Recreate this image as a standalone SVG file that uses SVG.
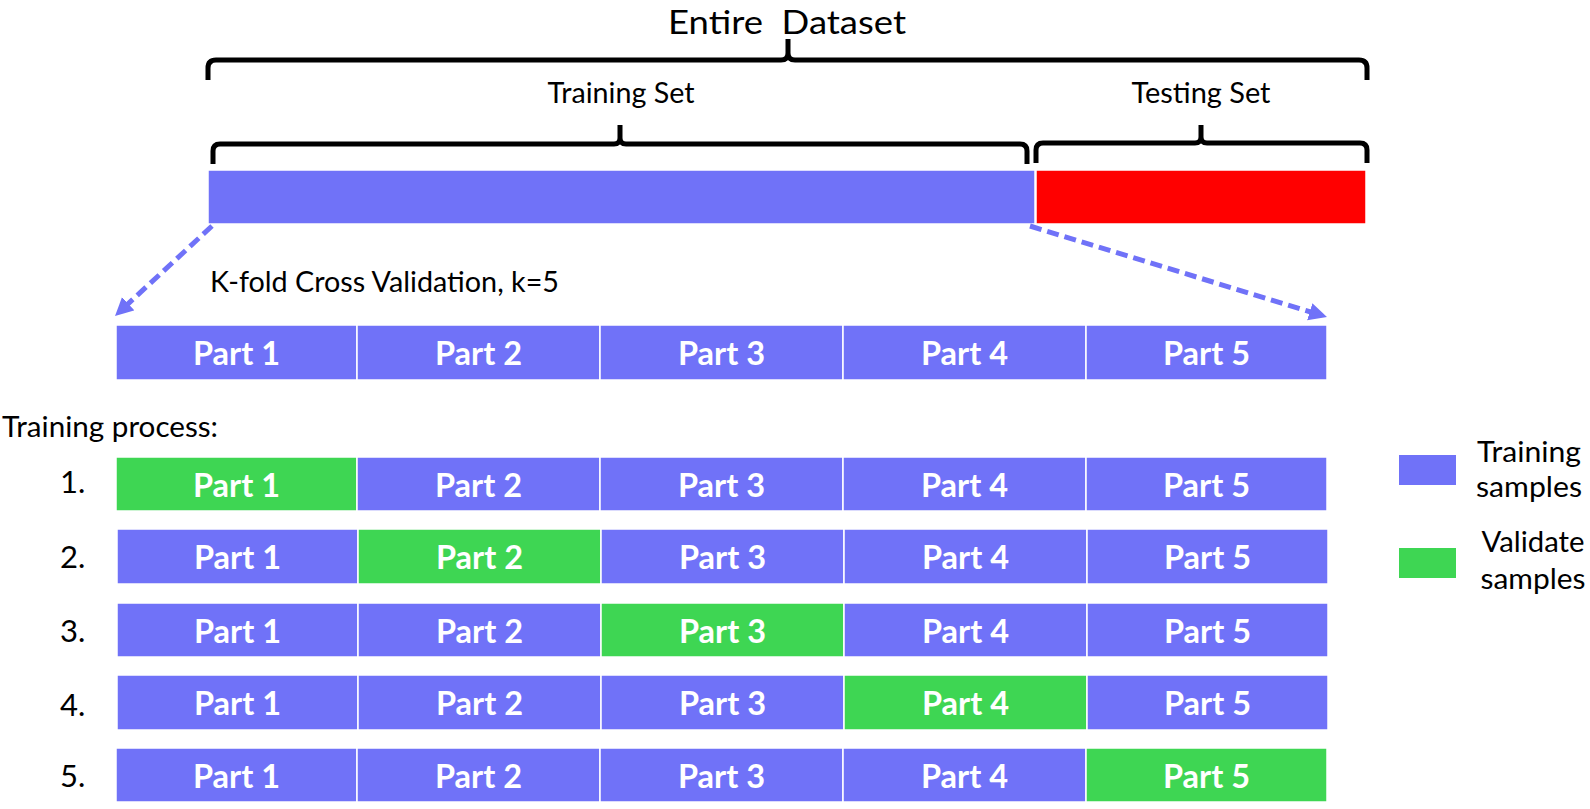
<svg xmlns="http://www.w3.org/2000/svg" width="1590" height="809" viewBox="0 0 1590 809">
<style>
.lbl{font-family:Lato,"Liberation Sans",sans-serif;fill:#000;}
.pt{font-family:Lato,"Liberation Sans",sans-serif;font-weight:bold;font-size:31.5px;fill:#fff;text-anchor:middle;}
.tr{fill:#7072F8;stroke:#fff;stroke-width:1.5;}
.va{fill:#3ED653;stroke:#fff;stroke-width:1.5;}
.te{fill:#FF0000;stroke:#fff;stroke-width:1.5;}
.br{fill:none;stroke:#000;stroke-width:5;stroke-linejoin:round;}
.ar{fill:none;stroke:#7072F8;stroke-width:5;stroke-dasharray:12 6;}
</style>
<defs>
<marker id="ah" markerUnits="userSpaceOnUse" markerWidth="20" markerHeight="20" refX="6" refY="9" orient="auto">
<path d="M0,0 L18,9 L0,18 z" fill="#7072F8"/>
</marker>
</defs>
<rect width="1590" height="809" fill="#fff"/>

<g id="title">
<text class="lbl" x="787" y="33.5" font-size="33.5" text-anchor="middle" xml:space="preserve" textLength="238" lengthAdjust="spacingAndGlyphs">Entire  Dataset</text>
</g>
<g id="brace-entire">
<path class="br" stroke-width="5.5" d="M208,80 V68 Q208,60 216,60 H781 Q788,60 788,53 V39 M788,53 Q788,60 795,60 H1359 Q1367,60 1367,68 V80"/>
</g>
<g id="label-training-set">
<text class="lbl" x="621" y="103" font-size="28" text-anchor="middle" textLength="147" lengthAdjust="spacingAndGlyphs">Training Set</text>
</g>
<g id="label-testing-set">
<text class="lbl" x="1201" y="103" font-size="28" text-anchor="middle" textLength="139" lengthAdjust="spacingAndGlyphs">Testing Set</text>
</g>
<g id="brace-training">
<path class="br" d="M213,164 V151 Q213,144 220,144 H614 Q620,144 620,138 V125 M620,138 Q620,144 626,144 H1020 Q1027,144 1027,151 V164"/>
</g>
<g id="brace-testing">
<path class="br" d="M1036,163 V150 Q1036,143 1043,143 H1195 Q1201,143 1201,137 V125 M1201,137 Q1201,143 1207,143 H1360 Q1367,143 1367,150 V163"/>
</g>
<g id="bar-training"><rect class="tr" x="208" y="170" width="827" height="54"/></g>
<g id="bar-testing"><rect class="te" x="1036" y="170" width="330" height="54"/></g>

<g id="connectors">
<line class="ar" x1="212" y1="226" x2="123.8" y2="307.8" marker-end="url(#ah)"/>
<line class="ar" x1="1030" y1="226" x2="1315.5" y2="313.5" marker-end="url(#ah)"/>
</g>

<g id="label-kfold">
<text class="lbl" x="210" y="292" font-size="28" textLength="349" lengthAdjust="spacingAndGlyphs">K-fold Cross Validation, k=5</text>
</g>

<g id="row-0">
<rect class="tr" x="116" y="325" width="241" height="55"/><rect class="tr" x="357" y="325" width="243" height="55"/><rect class="tr" x="600" y="325" width="243" height="55"/><rect class="tr" x="843" y="325" width="243" height="55"/><rect class="tr" x="1086" y="325" width="241" height="55"/>
<text class="pt" x="236.5" y="365" textLength="87" lengthAdjust="spacingAndGlyphs">Part 1</text><text class="pt" x="478.5" y="365" textLength="87" lengthAdjust="spacingAndGlyphs">Part 2</text><text class="pt" x="721.5" y="365" textLength="87" lengthAdjust="spacingAndGlyphs">Part 3</text><text class="pt" x="964.5" y="365" textLength="87" lengthAdjust="spacingAndGlyphs">Part 4</text><text class="pt" x="1206.5" y="365" textLength="87" lengthAdjust="spacingAndGlyphs">Part 5</text>
</g>

<g id="label-training-process">
<text class="lbl" x="2" y="437" font-size="28" textLength="216" lengthAdjust="spacingAndGlyphs">Training process:</text>
</g>

<g id="row-1">
<text class="lbl" x="60" y="493" font-size="31">1.</text>
<rect class="va" x="116" y="457" width="241" height="54"/><rect class="tr" x="357" y="457" width="243" height="54"/><rect class="tr" x="600" y="457" width="243" height="54"/><rect class="tr" x="843" y="457" width="243" height="54"/><rect class="tr" x="1086" y="457" width="241" height="54"/>
<text class="pt" x="236.5" y="496.5" textLength="87" lengthAdjust="spacingAndGlyphs">Part 1</text><text class="pt" x="478.5" y="496.5" textLength="87" lengthAdjust="spacingAndGlyphs">Part 2</text><text class="pt" x="721.5" y="496.5" textLength="87" lengthAdjust="spacingAndGlyphs">Part 3</text><text class="pt" x="964.5" y="496.5" textLength="87" lengthAdjust="spacingAndGlyphs">Part 4</text><text class="pt" x="1206.5" y="496.5" textLength="87" lengthAdjust="spacingAndGlyphs">Part 5</text>
</g>

<g id="row-2">
<text class="lbl" x="60" y="568" font-size="31">2.</text>
<rect class="tr" x="117" y="529" width="241" height="55"/><rect class="va" x="358" y="529" width="243" height="55"/><rect class="tr" x="601" y="529" width="243" height="55"/><rect class="tr" x="844" y="529" width="243" height="55"/><rect class="tr" x="1087" y="529" width="241" height="55"/>
<text class="pt" x="237.5" y="569" textLength="87" lengthAdjust="spacingAndGlyphs">Part 1</text><text class="pt" x="479.5" y="569" textLength="87" lengthAdjust="spacingAndGlyphs">Part 2</text><text class="pt" x="722.5" y="569" textLength="87" lengthAdjust="spacingAndGlyphs">Part 3</text><text class="pt" x="965.5" y="569" textLength="87" lengthAdjust="spacingAndGlyphs">Part 4</text><text class="pt" x="1207.5" y="569" textLength="87" lengthAdjust="spacingAndGlyphs">Part 5</text>
</g>

<g id="row-3">
<text class="lbl" x="60" y="642" font-size="31">3.</text>
<rect class="tr" x="117" y="603" width="241" height="54"/><rect class="tr" x="358" y="603" width="243" height="54"/><rect class="va" x="601" y="603" width="243" height="54"/><rect class="tr" x="844" y="603" width="243" height="54"/><rect class="tr" x="1087" y="603" width="241" height="54"/>
<text class="pt" x="237.5" y="642.5" textLength="87" lengthAdjust="spacingAndGlyphs">Part 1</text><text class="pt" x="479.5" y="642.5" textLength="87" lengthAdjust="spacingAndGlyphs">Part 2</text><text class="pt" x="722.5" y="642.5" textLength="87" lengthAdjust="spacingAndGlyphs">Part 3</text><text class="pt" x="965.5" y="642.5" textLength="87" lengthAdjust="spacingAndGlyphs">Part 4</text><text class="pt" x="1207.5" y="642.5" textLength="87" lengthAdjust="spacingAndGlyphs">Part 5</text>
</g>

<g id="row-4">
<text class="lbl" x="60" y="716" font-size="31">4.</text>
<rect class="tr" x="117" y="675" width="241" height="55"/><rect class="tr" x="358" y="675" width="243" height="55"/><rect class="tr" x="601" y="675" width="243" height="55"/><rect class="va" x="844" y="675" width="243" height="55"/><rect class="tr" x="1087" y="675" width="241" height="55"/>
<text class="pt" x="237.5" y="715" textLength="87" lengthAdjust="spacingAndGlyphs">Part 1</text><text class="pt" x="479.5" y="715" textLength="87" lengthAdjust="spacingAndGlyphs">Part 2</text><text class="pt" x="722.5" y="715" textLength="87" lengthAdjust="spacingAndGlyphs">Part 3</text><text class="pt" x="965.5" y="715" textLength="87" lengthAdjust="spacingAndGlyphs">Part 4</text><text class="pt" x="1207.5" y="715" textLength="87" lengthAdjust="spacingAndGlyphs">Part 5</text>
</g>

<g id="row-5">
<text class="lbl" x="60" y="787" font-size="31">5.</text>
<rect class="tr" x="116" y="748" width="241" height="54"/><rect class="tr" x="357" y="748" width="243" height="54"/><rect class="tr" x="600" y="748" width="243" height="54"/><rect class="tr" x="843" y="748" width="243" height="54"/><rect class="va" x="1086" y="748" width="241" height="54"/>
<text class="pt" x="236.5" y="787.5" textLength="87" lengthAdjust="spacingAndGlyphs">Part 1</text><text class="pt" x="478.5" y="787.5" textLength="87" lengthAdjust="spacingAndGlyphs">Part 2</text><text class="pt" x="721.5" y="787.5" textLength="87" lengthAdjust="spacingAndGlyphs">Part 3</text><text class="pt" x="964.5" y="787.5" textLength="87" lengthAdjust="spacingAndGlyphs">Part 4</text><text class="pt" x="1206.5" y="787.5" textLength="87" lengthAdjust="spacingAndGlyphs">Part 5</text>
</g>

<g id="legend-training">
<rect x="1399" y="455" width="57" height="30" fill="#7072F8"/>
<text class="lbl" x="1529" y="462" font-size="28" text-anchor="middle" textLength="104" lengthAdjust="spacingAndGlyphs">Training</text>
<text class="lbl" x="1529" y="497" font-size="28" text-anchor="middle" textLength="106" lengthAdjust="spacingAndGlyphs">samples</text>
</g>
<g id="legend-validate">
<rect x="1399" y="548" width="57" height="30" fill="#3ED653"/>
<text class="lbl" x="1533" y="552" font-size="28" text-anchor="middle" textLength="103" lengthAdjust="spacingAndGlyphs">Validate</text>
<text class="lbl" x="1533" y="589" font-size="28" text-anchor="middle" textLength="105" lengthAdjust="spacingAndGlyphs">samples</text>
</g>
</svg>
